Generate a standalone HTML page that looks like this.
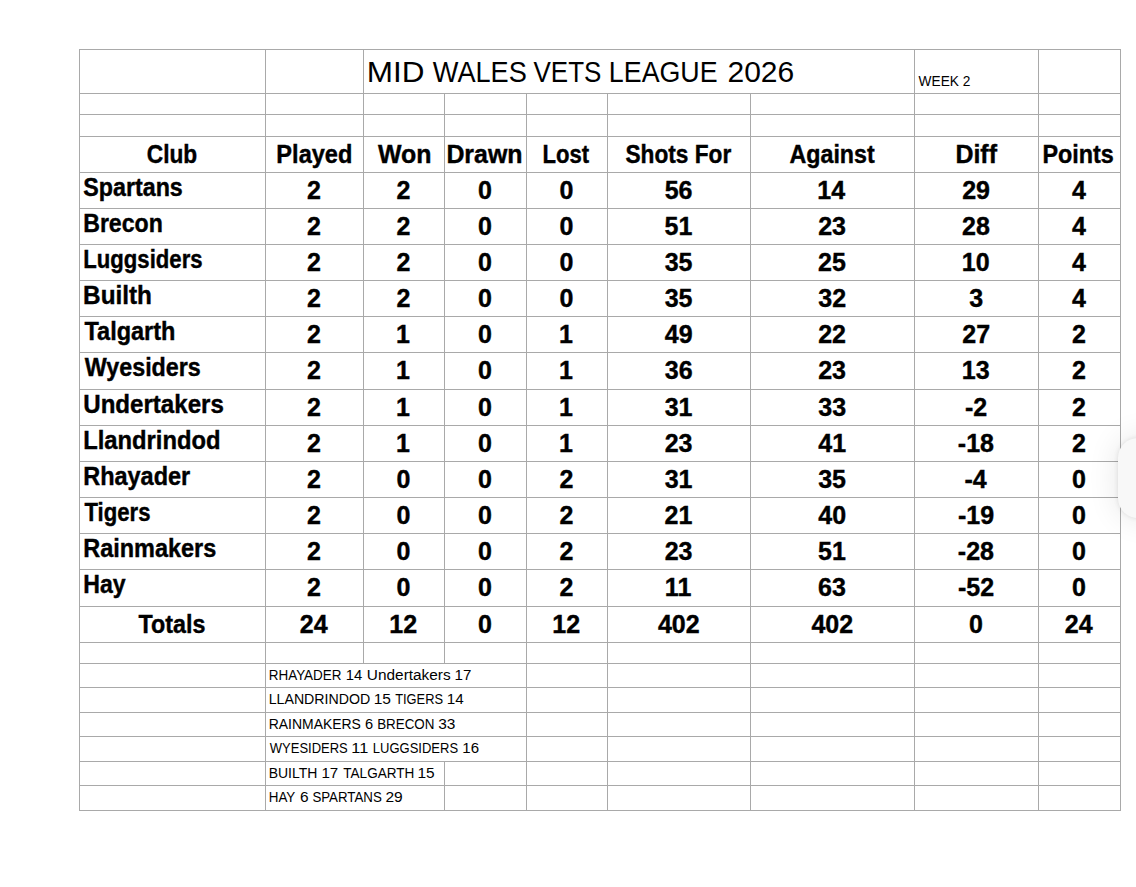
<!DOCTYPE html>
<html><head><meta charset="utf-8"><style>
html,body{margin:0;padding:0;background:#fff;width:1136px;height:887px;overflow:hidden}
svg{position:absolute;left:0;top:0}
text{font-family:"Liberation Sans",sans-serif;fill:#000}
.fab{position:absolute;left:1118px;top:438px;width:80px;height:80px;border-radius:20px;background:#f8f8f8;box-shadow:0 0 5px rgba(0,0,0,0.10), 0 0 30px 2px rgba(0,0,0,0.09)}
</style></head><body>
<svg width="1136" height="887" viewBox="0 0 1136 887">
<g fill="#a9a9a9" shape-rendering="crispEdges">
<rect x="79" y="49" width="1042" height="1"/>
<rect x="79" y="93" width="1042" height="1"/>
<rect x="79" y="114" width="1042" height="1"/>
<rect x="79" y="136" width="1042" height="1"/>
<rect x="79" y="172" width="1042" height="1"/>
<rect x="79" y="208" width="1042" height="1"/>
<rect x="79" y="244" width="1042" height="1"/>
<rect x="79" y="280" width="1042" height="1"/>
<rect x="79" y="316" width="1042" height="1"/>
<rect x="79" y="352" width="1042" height="1"/>
<rect x="79" y="389" width="1042" height="1"/>
<rect x="79" y="425" width="1042" height="1"/>
<rect x="79" y="461" width="1042" height="1"/>
<rect x="79" y="497" width="1042" height="1"/>
<rect x="79" y="533" width="1042" height="1"/>
<rect x="79" y="569" width="1042" height="1"/>
<rect x="79" y="606" width="1042" height="1"/>
<rect x="79" y="642" width="1042" height="1"/>
<rect x="79" y="663" width="1042" height="1"/>
<rect x="79" y="687" width="1042" height="1"/>
<rect x="79" y="712" width="1042" height="1"/>
<rect x="79" y="736" width="1042" height="1"/>
<rect x="79" y="761" width="1042" height="1"/>
<rect x="79" y="785" width="1042" height="1"/>
<rect x="79" y="810" width="1042" height="1"/>
<rect x="79" y="49" width="1" height="45"/>
<rect x="265" y="49" width="1" height="45"/>
<rect x="363" y="49" width="1" height="45"/>
<rect x="914" y="49" width="1" height="45"/>
<rect x="1038" y="49" width="1" height="45"/>
<rect x="1120" y="49" width="1" height="45"/>
<rect x="79" y="93" width="1" height="571"/>
<rect x="265" y="93" width="1" height="571"/>
<rect x="363" y="93" width="1" height="571"/>
<rect x="444" y="93" width="1" height="571"/>
<rect x="526" y="93" width="1" height="571"/>
<rect x="607" y="93" width="1" height="571"/>
<rect x="750" y="93" width="1" height="571"/>
<rect x="914" y="93" width="1" height="571"/>
<rect x="1038" y="93" width="1" height="571"/>
<rect x="1120" y="93" width="1" height="571"/>
<rect x="79" y="663" width="1" height="99"/>
<rect x="265" y="663" width="1" height="99"/>
<rect x="526" y="663" width="1" height="99"/>
<rect x="607" y="663" width="1" height="99"/>
<rect x="750" y="663" width="1" height="99"/>
<rect x="914" y="663" width="1" height="99"/>
<rect x="1038" y="663" width="1" height="99"/>
<rect x="1120" y="663" width="1" height="99"/>
<rect x="79" y="761" width="1" height="50"/>
<rect x="265" y="761" width="1" height="50"/>
<rect x="444" y="761" width="1" height="50"/>
<rect x="526" y="761" width="1" height="50"/>
<rect x="607" y="761" width="1" height="50"/>
<rect x="750" y="761" width="1" height="50"/>
<rect x="914" y="761" width="1" height="50"/>
<rect x="1038" y="761" width="1" height="50"/>
<rect x="1120" y="761" width="1" height="50"/>
</g>
<g>
<text transform="translate(366.78 81.80) scale(1.0671 1)" font-size="29.5" font-weight="normal">MID</text>
<text transform="translate(432.80 81.80) scale(0.9203 1)" font-size="29.5" font-weight="normal">WALES</text>
<text transform="translate(533.50 81.80) scale(0.8812 1)" font-size="29.5" font-weight="normal">VETS</text>
<text transform="translate(608.86 81.80) scale(0.9088 1)" font-size="29.5" font-weight="normal">LEAGUE</text>
<text transform="translate(727.50 81.80) scale(1.0169 1)" font-size="29.5" font-weight="normal">2026</text>
<text transform="translate(918.60 85.60) scale(0.9084 1)" font-size="15.1" font-weight="normal">WEEK 2</text>
<text transform="translate(146.79 162.80) scale(0.9081 1)" font-size="25" font-weight="bold" stroke="#000" stroke-width="0.4">Club</text>
<text transform="translate(276.37 162.80) scale(0.9427 1)" font-size="25" font-weight="bold" stroke="#000" stroke-width="0.4">Played</text>
<text transform="translate(378.00 162.80) scale(0.9968 1)" font-size="25" font-weight="bold" stroke="#000" stroke-width="0.4">Won</text>
<text transform="translate(446.38 162.80) scale(0.9965 1)" font-size="25" font-weight="bold" stroke="#000" stroke-width="0.4">Drawn</text>
<text transform="translate(542.56 162.80) scale(0.8833 1)" font-size="25" font-weight="bold" stroke="#000" stroke-width="0.4">Lost</text>
<text transform="translate(625.43 162.80) scale(0.9076 1)" font-size="25" font-weight="bold" stroke="#000" stroke-width="0.4">Shots For</text>
<text transform="translate(789.54 162.80) scale(0.9288 1)" font-size="25" font-weight="bold" stroke="#000" stroke-width="0.4">Against</text>
<text transform="translate(955.38 162.80) scale(0.9981 1)" font-size="25" font-weight="bold" stroke="#000" stroke-width="0.4">Diff</text>
<text transform="translate(1042.48 162.80) scale(0.9342 1)" font-size="25" font-weight="bold" stroke="#000" stroke-width="0.4">Points</text>
<text transform="translate(83.32 195.80) scale(0.9303 1)" font-size="25" font-weight="bold" stroke="#000" stroke-width="0.4">Spartans</text>
<text transform="translate(307.12 198.80) scale(1.0000 1)" font-size="25" font-weight="bold" stroke="#000" stroke-width="0.4">2</text>
<text transform="translate(396.62 198.80) scale(1.0000 1)" font-size="25" font-weight="bold" stroke="#000" stroke-width="0.4">2</text>
<text transform="translate(478.06 198.80) scale(1.0000 1)" font-size="25" font-weight="bold" stroke="#000" stroke-width="0.4">0</text>
<text transform="translate(559.56 198.80) scale(1.0000 1)" font-size="25" font-weight="bold" stroke="#000" stroke-width="0.4">0</text>
<text transform="translate(664.67 198.80) scale(1.0000 1)" font-size="25" font-weight="bold" stroke="#000" stroke-width="0.4">56</text>
<text transform="translate(817.36 198.80) scale(1.0000 1)" font-size="25" font-weight="bold" stroke="#000" stroke-width="0.4">14</text>
<text transform="translate(962.17 198.80) scale(1.0000 1)" font-size="25" font-weight="bold" stroke="#000" stroke-width="0.4">29</text>
<text transform="translate(1071.88 198.80) scale(1.0000 1)" font-size="25" font-weight="bold" stroke="#000" stroke-width="0.4">4</text>
<text transform="translate(83.20 231.80) scale(0.9242 1)" font-size="25" font-weight="bold" stroke="#000" stroke-width="0.4">Brecon</text>
<text transform="translate(307.12 234.80) scale(1.0000 1)" font-size="25" font-weight="bold" stroke="#000" stroke-width="0.4">2</text>
<text transform="translate(396.62 234.80) scale(1.0000 1)" font-size="25" font-weight="bold" stroke="#000" stroke-width="0.4">2</text>
<text transform="translate(478.06 234.80) scale(1.0000 1)" font-size="25" font-weight="bold" stroke="#000" stroke-width="0.4">0</text>
<text transform="translate(559.56 234.80) scale(1.0000 1)" font-size="25" font-weight="bold" stroke="#000" stroke-width="0.4">0</text>
<text transform="translate(664.55 234.80) scale(1.0000 1)" font-size="25" font-weight="bold" stroke="#000" stroke-width="0.4">51</text>
<text transform="translate(818.17 234.80) scale(1.0000 1)" font-size="25" font-weight="bold" stroke="#000" stroke-width="0.4">23</text>
<text transform="translate(962.05 234.80) scale(1.0000 1)" font-size="25" font-weight="bold" stroke="#000" stroke-width="0.4">28</text>
<text transform="translate(1071.88 234.80) scale(1.0000 1)" font-size="25" font-weight="bold" stroke="#000" stroke-width="0.4">4</text>
<text transform="translate(83.26 267.80) scale(0.8857 1)" font-size="25" font-weight="bold" stroke="#000" stroke-width="0.4">Luggsiders</text>
<text transform="translate(307.12 270.80) scale(1.0000 1)" font-size="25" font-weight="bold" stroke="#000" stroke-width="0.4">2</text>
<text transform="translate(396.62 270.80) scale(1.0000 1)" font-size="25" font-weight="bold" stroke="#000" stroke-width="0.4">2</text>
<text transform="translate(478.06 270.80) scale(1.0000 1)" font-size="25" font-weight="bold" stroke="#000" stroke-width="0.4">0</text>
<text transform="translate(559.56 270.80) scale(1.0000 1)" font-size="25" font-weight="bold" stroke="#000" stroke-width="0.4">0</text>
<text transform="translate(664.67 270.80) scale(1.0000 1)" font-size="25" font-weight="bold" stroke="#000" stroke-width="0.4">35</text>
<text transform="translate(818.05 270.80) scale(1.0000 1)" font-size="25" font-weight="bold" stroke="#000" stroke-width="0.4">25</text>
<text transform="translate(961.80 270.80) scale(1.0000 1)" font-size="25" font-weight="bold" stroke="#000" stroke-width="0.4">10</text>
<text transform="translate(1071.88 270.80) scale(1.0000 1)" font-size="25" font-weight="bold" stroke="#000" stroke-width="0.4">4</text>
<text transform="translate(83.12 303.80) scale(0.9724 1)" font-size="25" font-weight="bold" stroke="#000" stroke-width="0.4">Builth</text>
<text transform="translate(307.12 306.80) scale(1.0000 1)" font-size="25" font-weight="bold" stroke="#000" stroke-width="0.4">2</text>
<text transform="translate(396.62 306.80) scale(1.0000 1)" font-size="25" font-weight="bold" stroke="#000" stroke-width="0.4">2</text>
<text transform="translate(478.06 306.80) scale(1.0000 1)" font-size="25" font-weight="bold" stroke="#000" stroke-width="0.4">0</text>
<text transform="translate(559.56 306.80) scale(1.0000 1)" font-size="25" font-weight="bold" stroke="#000" stroke-width="0.4">0</text>
<text transform="translate(664.67 306.80) scale(1.0000 1)" font-size="25" font-weight="bold" stroke="#000" stroke-width="0.4">35</text>
<text transform="translate(818.30 306.80) scale(1.0000 1)" font-size="25" font-weight="bold" stroke="#000" stroke-width="0.4">32</text>
<text transform="translate(969.25 306.80) scale(1.0000 1)" font-size="25" font-weight="bold" stroke="#000" stroke-width="0.4">3</text>
<text transform="translate(1071.88 306.80) scale(1.0000 1)" font-size="25" font-weight="bold" stroke="#000" stroke-width="0.4">4</text>
<text transform="translate(84.46 339.80) scale(0.9401 1)" font-size="25" font-weight="bold" stroke="#000" stroke-width="0.4">Talgarth</text>
<text transform="translate(307.12 342.80) scale(1.0000 1)" font-size="25" font-weight="bold" stroke="#000" stroke-width="0.4">2</text>
<text transform="translate(396.12 342.80) scale(1.0000 1)" font-size="25" font-weight="bold" stroke="#000" stroke-width="0.4">1</text>
<text transform="translate(478.06 342.80) scale(1.0000 1)" font-size="25" font-weight="bold" stroke="#000" stroke-width="0.4">0</text>
<text transform="translate(559.12 342.80) scale(1.0000 1)" font-size="25" font-weight="bold" stroke="#000" stroke-width="0.4">1</text>
<text transform="translate(664.86 342.80) scale(1.0000 1)" font-size="25" font-weight="bold" stroke="#000" stroke-width="0.4">49</text>
<text transform="translate(818.17 342.80) scale(1.0000 1)" font-size="25" font-weight="bold" stroke="#000" stroke-width="0.4">22</text>
<text transform="translate(962.24 342.80) scale(1.0000 1)" font-size="25" font-weight="bold" stroke="#000" stroke-width="0.4">27</text>
<text transform="translate(1072.12 342.80) scale(1.0000 1)" font-size="25" font-weight="bold" stroke="#000" stroke-width="0.4">2</text>
<text transform="translate(84.70 375.80) scale(0.9321 1)" font-size="25" font-weight="bold" stroke="#000" stroke-width="0.4">Wyesiders</text>
<text transform="translate(307.12 378.80) scale(1.0000 1)" font-size="25" font-weight="bold" stroke="#000" stroke-width="0.4">2</text>
<text transform="translate(396.12 378.80) scale(1.0000 1)" font-size="25" font-weight="bold" stroke="#000" stroke-width="0.4">1</text>
<text transform="translate(478.06 378.80) scale(1.0000 1)" font-size="25" font-weight="bold" stroke="#000" stroke-width="0.4">0</text>
<text transform="translate(559.12 378.80) scale(1.0000 1)" font-size="25" font-weight="bold" stroke="#000" stroke-width="0.4">1</text>
<text transform="translate(664.80 378.80) scale(1.0000 1)" font-size="25" font-weight="bold" stroke="#000" stroke-width="0.4">36</text>
<text transform="translate(818.17 378.80) scale(1.0000 1)" font-size="25" font-weight="bold" stroke="#000" stroke-width="0.4">23</text>
<text transform="translate(961.80 378.80) scale(1.0000 1)" font-size="25" font-weight="bold" stroke="#000" stroke-width="0.4">13</text>
<text transform="translate(1072.12 378.80) scale(1.0000 1)" font-size="25" font-weight="bold" stroke="#000" stroke-width="0.4">2</text>
<text transform="translate(83.25 412.80) scale(0.9638 1)" font-size="25" font-weight="bold" stroke="#000" stroke-width="0.4">Undertakers</text>
<text transform="translate(307.12 415.80) scale(1.0000 1)" font-size="25" font-weight="bold" stroke="#000" stroke-width="0.4">2</text>
<text transform="translate(396.12 415.80) scale(1.0000 1)" font-size="25" font-weight="bold" stroke="#000" stroke-width="0.4">1</text>
<text transform="translate(478.06 415.80) scale(1.0000 1)" font-size="25" font-weight="bold" stroke="#000" stroke-width="0.4">0</text>
<text transform="translate(559.12 415.80) scale(1.0000 1)" font-size="25" font-weight="bold" stroke="#000" stroke-width="0.4">1</text>
<text transform="translate(664.67 415.80) scale(1.0000 1)" font-size="25" font-weight="bold" stroke="#000" stroke-width="0.4">31</text>
<text transform="translate(818.30 415.80) scale(1.0000 1)" font-size="25" font-weight="bold" stroke="#000" stroke-width="0.4">33</text>
<text transform="translate(964.90 415.80) scale(1.0000 1)" font-size="25" font-weight="bold" stroke="#000" stroke-width="0.4">-2</text>
<text transform="translate(1072.12 415.80) scale(1.0000 1)" font-size="25" font-weight="bold" stroke="#000" stroke-width="0.4">2</text>
<text transform="translate(83.15 448.80) scale(0.9515 1)" font-size="25" font-weight="bold" stroke="#000" stroke-width="0.4">Llandrindod</text>
<text transform="translate(307.12 451.80) scale(1.0000 1)" font-size="25" font-weight="bold" stroke="#000" stroke-width="0.4">2</text>
<text transform="translate(396.12 451.80) scale(1.0000 1)" font-size="25" font-weight="bold" stroke="#000" stroke-width="0.4">1</text>
<text transform="translate(478.06 451.80) scale(1.0000 1)" font-size="25" font-weight="bold" stroke="#000" stroke-width="0.4">0</text>
<text transform="translate(559.12 451.80) scale(1.0000 1)" font-size="25" font-weight="bold" stroke="#000" stroke-width="0.4">1</text>
<text transform="translate(664.67 451.80) scale(1.0000 1)" font-size="25" font-weight="bold" stroke="#000" stroke-width="0.4">23</text>
<text transform="translate(818.24 451.80) scale(1.0000 1)" font-size="25" font-weight="bold" stroke="#000" stroke-width="0.4">41</text>
<text transform="translate(957.82 451.80) scale(1.0000 1)" font-size="25" font-weight="bold" stroke="#000" stroke-width="0.4">-18</text>
<text transform="translate(1072.12 451.80) scale(1.0000 1)" font-size="25" font-weight="bold" stroke="#000" stroke-width="0.4">2</text>
<text transform="translate(83.17 484.80) scale(0.9405 1)" font-size="25" font-weight="bold" stroke="#000" stroke-width="0.4">Rhayader</text>
<text transform="translate(307.12 487.80) scale(1.0000 1)" font-size="25" font-weight="bold" stroke="#000" stroke-width="0.4">2</text>
<text transform="translate(396.56 487.80) scale(1.0000 1)" font-size="25" font-weight="bold" stroke="#000" stroke-width="0.4">0</text>
<text transform="translate(478.06 487.80) scale(1.0000 1)" font-size="25" font-weight="bold" stroke="#000" stroke-width="0.4">0</text>
<text transform="translate(559.62 487.80) scale(1.0000 1)" font-size="25" font-weight="bold" stroke="#000" stroke-width="0.4">2</text>
<text transform="translate(664.67 487.80) scale(1.0000 1)" font-size="25" font-weight="bold" stroke="#000" stroke-width="0.4">31</text>
<text transform="translate(818.17 487.80) scale(1.0000 1)" font-size="25" font-weight="bold" stroke="#000" stroke-width="0.4">35</text>
<text transform="translate(964.46 487.80) scale(1.0000 1)" font-size="25" font-weight="bold" stroke="#000" stroke-width="0.4">-4</text>
<text transform="translate(1072.06 487.80) scale(1.0000 1)" font-size="25" font-weight="bold" stroke="#000" stroke-width="0.4">0</text>
<text transform="translate(84.48 520.80) scale(0.8853 1)" font-size="25" font-weight="bold" stroke="#000" stroke-width="0.4">Tigers</text>
<text transform="translate(307.12 523.80) scale(1.0000 1)" font-size="25" font-weight="bold" stroke="#000" stroke-width="0.4">2</text>
<text transform="translate(396.56 523.80) scale(1.0000 1)" font-size="25" font-weight="bold" stroke="#000" stroke-width="0.4">0</text>
<text transform="translate(478.06 523.80) scale(1.0000 1)" font-size="25" font-weight="bold" stroke="#000" stroke-width="0.4">0</text>
<text transform="translate(559.62 523.80) scale(1.0000 1)" font-size="25" font-weight="bold" stroke="#000" stroke-width="0.4">2</text>
<text transform="translate(664.55 523.80) scale(1.0000 1)" font-size="25" font-weight="bold" stroke="#000" stroke-width="0.4">21</text>
<text transform="translate(818.36 523.80) scale(1.0000 1)" font-size="25" font-weight="bold" stroke="#000" stroke-width="0.4">40</text>
<text transform="translate(957.95 523.80) scale(1.0000 1)" font-size="25" font-weight="bold" stroke="#000" stroke-width="0.4">-19</text>
<text transform="translate(1072.06 523.80) scale(1.0000 1)" font-size="25" font-weight="bold" stroke="#000" stroke-width="0.4">0</text>
<text transform="translate(83.17 556.80) scale(0.9395 1)" font-size="25" font-weight="bold" stroke="#000" stroke-width="0.4">Rainmakers</text>
<text transform="translate(307.12 559.80) scale(1.0000 1)" font-size="25" font-weight="bold" stroke="#000" stroke-width="0.4">2</text>
<text transform="translate(396.56 559.80) scale(1.0000 1)" font-size="25" font-weight="bold" stroke="#000" stroke-width="0.4">0</text>
<text transform="translate(478.06 559.80) scale(1.0000 1)" font-size="25" font-weight="bold" stroke="#000" stroke-width="0.4">0</text>
<text transform="translate(559.62 559.80) scale(1.0000 1)" font-size="25" font-weight="bold" stroke="#000" stroke-width="0.4">2</text>
<text transform="translate(664.67 559.80) scale(1.0000 1)" font-size="25" font-weight="bold" stroke="#000" stroke-width="0.4">23</text>
<text transform="translate(818.05 559.80) scale(1.0000 1)" font-size="25" font-weight="bold" stroke="#000" stroke-width="0.4">51</text>
<text transform="translate(957.82 559.80) scale(1.0000 1)" font-size="25" font-weight="bold" stroke="#000" stroke-width="0.4">-28</text>
<text transform="translate(1072.06 559.80) scale(1.0000 1)" font-size="25" font-weight="bold" stroke="#000" stroke-width="0.4">0</text>
<text transform="translate(83.20 592.80) scale(0.9252 1)" font-size="25" font-weight="bold" stroke="#000" stroke-width="0.4">Hay</text>
<text transform="translate(307.12 595.80) scale(1.0000 1)" font-size="25" font-weight="bold" stroke="#000" stroke-width="0.4">2</text>
<text transform="translate(396.56 595.80) scale(1.0000 1)" font-size="25" font-weight="bold" stroke="#000" stroke-width="0.4">0</text>
<text transform="translate(478.06 595.80) scale(1.0000 1)" font-size="25" font-weight="bold" stroke="#000" stroke-width="0.4">0</text>
<text transform="translate(559.62 595.80) scale(1.0000 1)" font-size="25" font-weight="bold" stroke="#000" stroke-width="0.4">2</text>
<text transform="translate(664.86 595.80) scale(1.0000 1)" font-size="25" font-weight="bold" stroke="#000" stroke-width="0.4">11</text>
<text transform="translate(818.11 595.80) scale(1.0000 1)" font-size="25" font-weight="bold" stroke="#000" stroke-width="0.4">63</text>
<text transform="translate(957.95 595.80) scale(1.0000 1)" font-size="25" font-weight="bold" stroke="#000" stroke-width="0.4">-52</text>
<text transform="translate(1072.06 595.80) scale(1.0000 1)" font-size="25" font-weight="bold" stroke="#000" stroke-width="0.4">0</text>
<text transform="translate(138.57 632.80) scale(0.9319 1)" font-size="25" font-weight="bold" stroke="#000" stroke-width="0.4">Totals</text>
<text transform="translate(299.74 632.80) scale(1.0000 1)" font-size="25" font-weight="bold" stroke="#000" stroke-width="0.4">24</text>
<text transform="translate(389.30 632.80) scale(1.0000 1)" font-size="25" font-weight="bold" stroke="#000" stroke-width="0.4">12</text>
<text transform="translate(478.06 632.80) scale(1.0000 1)" font-size="25" font-weight="bold" stroke="#000" stroke-width="0.4">0</text>
<text transform="translate(552.30 632.80) scale(1.0000 1)" font-size="25" font-weight="bold" stroke="#000" stroke-width="0.4">12</text>
<text transform="translate(657.91 632.80) scale(1.0000 1)" font-size="25" font-weight="bold" stroke="#000" stroke-width="0.4">402</text>
<text transform="translate(811.41 632.80) scale(1.0000 1)" font-size="25" font-weight="bold" stroke="#000" stroke-width="0.4">402</text>
<text transform="translate(969.06 632.80) scale(1.0000 1)" font-size="25" font-weight="bold" stroke="#000" stroke-width="0.4">0</text>
<text transform="translate(1064.74 632.80) scale(1.0000 1)" font-size="25" font-weight="bold" stroke="#000" stroke-width="0.4">24</text>
<text transform="translate(268.72 679.90) scale(0.9101 1)" font-size="14.8" font-weight="normal">RHAYADER</text>
<text transform="translate(345.69 679.90) scale(1.0023 1)" font-size="14.8" font-weight="normal">14</text>
<text transform="translate(366.84 679.90) scale(1.0407 1)" font-size="14.8" font-weight="normal">Undertakers</text>
<text transform="translate(454.56 679.90) scale(1.0226 1)" font-size="14.8" font-weight="normal">17</text>
<text transform="translate(268.66 703.90) scale(0.9587 1)" font-size="14.8" font-weight="normal">LLANDRINDOD</text>
<text transform="translate(373.63 703.90) scale(1.0513 1)" font-size="14.8" font-weight="normal">15</text>
<text transform="translate(395.14 703.90) scale(0.8712 1)" font-size="14.8" font-weight="normal">TIGERS</text>
<text transform="translate(446.86 703.90) scale(1.0291 1)" font-size="14.8" font-weight="normal">14</text>
<text transform="translate(268.68 728.90) scale(0.9432 1)" font-size="14.8" font-weight="normal">RAINMAKERS</text>
<text transform="translate(364.97 728.90) scale(0.9881 1)" font-size="14.8" font-weight="normal">6</text>
<text transform="translate(377.13 728.90) scale(0.9050 1)" font-size="14.8" font-weight="normal">BRECON</text>
<text transform="translate(438.16 728.90) scale(1.0434 1)" font-size="14.8" font-weight="normal">33</text>
<text transform="translate(269.80 752.90) scale(0.8788 1)" font-size="14.8" font-weight="normal">WYESIDERS</text>
<text transform="translate(351.37 752.90) scale(1.1053 1)" font-size="14.8" font-weight="normal">11</text>
<text transform="translate(372.86 752.90) scale(0.8788 1)" font-size="14.8" font-weight="normal">LUGGSIDERS</text>
<text transform="translate(462.27 752.90) scale(1.0174 1)" font-size="14.8" font-weight="normal">16</text>
<text transform="translate(268.68 777.90) scale(0.9450 1)" font-size="14.8" font-weight="normal">BUILTH</text>
<text transform="translate(321.46 777.90) scale(1.0226 1)" font-size="14.8" font-weight="normal">17</text>
<text transform="translate(343.33 777.90) scale(0.9154 1)" font-size="14.8" font-weight="normal">TALGARTH</text>
<text transform="translate(417.44 777.90) scale(1.0446 1)" font-size="14.8" font-weight="normal">15</text>
<text transform="translate(268.73 801.90) scale(0.9057 1)" font-size="14.8" font-weight="normal">HAY</text>
<text transform="translate(300.03 801.90) scale(1.0462 1)" font-size="14.8" font-weight="normal">6</text>
<text transform="translate(312.40 801.90) scale(0.8984 1)" font-size="14.8" font-weight="normal">SPARTANS</text>
<text transform="translate(385.42 801.90) scale(1.0506 1)" font-size="14.8" font-weight="normal">29</text>
</g>
</svg>
<div class="fab"></div>
</body></html>
